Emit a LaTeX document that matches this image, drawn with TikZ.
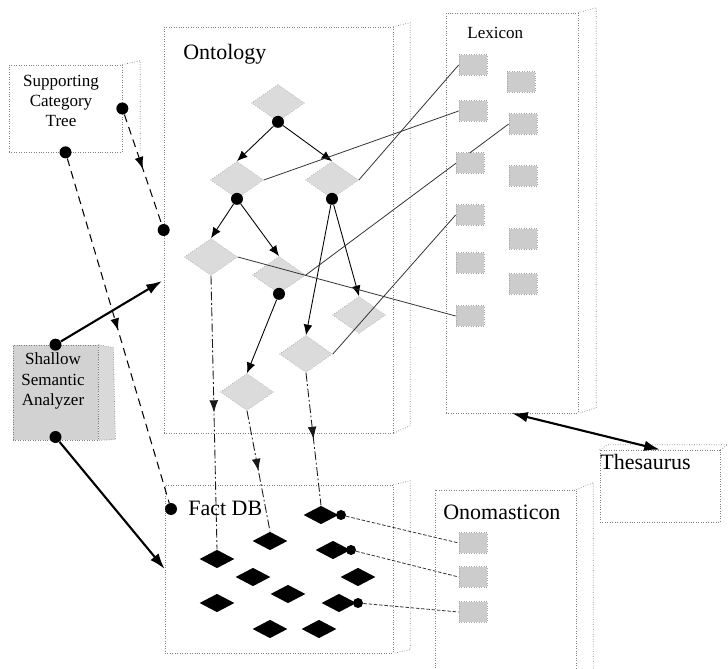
\documentclass[tikz,border=0pt]{standalone}
\usepackage{fontspec}
\setmainfont{Liberation Serif}
\usetikzlibrary{shapes.geometric, arrows.meta, decorations.markings}

\pgfdeclarelayer{front}
\pgfsetlayers{main,front}

\tikzset{
  frontbox/.style={draw=gray, densely dotted, inner sep=0},
  backedge/.style={draw=gray, densely dotted},
  ssabox/.style={draw=gray, densely dotted, fill=gray!35, inner sep=0},
  ssaside/.style={draw=gray, densely dotted, fill=gray!30},
  odiam/.style={diamond, draw=gray!70, densely dotted, fill=gray!28, minimum width=1.06cm, minimum height=0.74cm, inner sep=0},
  fdiam/.style={diamond, fill=black, minimum width=0.7cm, minimum height=0.37cm, inner sep=0},
  lexbox/.style={rectangle, draw=gray!70, densely dotted, fill=gray!40, minimum width=0.56cm, minimum height=0.42cm, inner sep=0},
  bigdot/.style={circle, fill=black, minimum size=0.24cm, inner sep=0},
  smalldot/.style={circle, fill=black, minimum size=0.2cm, inner sep=0},
  bigtxt/.style={font=\fontsize{12.5}{14}\selectfont, inner sep=0},
  smalltxt/.style={font=\fontsize{9.7}{11.6}\selectfont, inner sep=0, align=center},
  isa/.style={black, line width=0.5pt, -{Latex[length=6pt, width=5pt]}},
  lexlink/.style={gray!40!black, line width=0.45pt},
  onolink/.style={gray!40!black, line width=0.45pt, dash pattern=on 2pt off 1pt},
  flow/.style={gray!20!black, line width=0.5pt, dash pattern=on 5pt off 1.5pt on 1pt off 1.5pt},
  sctflow/.style={black, line width=0.6pt, dash pattern=on 4.5pt off 3pt},
  midarrow/.style={postaction={decorate}, decoration={markings,
      mark=at position 0.5 with {\arrow{Latex[length=7pt, width=5pt]}}}},
  thickarrow/.style={line width=1.2pt, -{Latex[length=9pt, width=6pt]}},
}

\begin{document}
\begin{tikzpicture}[x=0.02cm, y=-0.02cm]
\useasboundingbox (0,0) rectangle (728,669);
\clip (0,0) rectangle (728,669);

%% the containers, front faces and back edges
\node[frontbox, minimum width=2.26cm, minimum height=1.74cm] (sct) at (65.5,108.5) {};
\node[frontbox, minimum width=4.58cm, minimum height=8.12cm] (onto) at (278.5,230) {};
\node[frontbox, minimum width=2.64cm, minimum height=8cm] (lex) at (512,213) {};
\node[frontbox, minimum width=2.4cm, minimum height=1.44cm] (thes) at (660,486) {};
\node[frontbox, minimum width=2.82cm, minimum height=3.8cm] (onom) at (505.5,585) {};
\node[frontbox, minimum width=4.56cm, minimum height=3.36cm] (fact) at (279,569) {};

\draw[backedge] (sct.north east) -- ++(18,-4) -- ++(0,91);
\draw[backedge] (onto.north east) -- ++(17,-4) -- ++(0,403) -- (onto.south east);
\draw[backedge] (lex.north east) -- ++(18,-5) -- ++(0,400) -- (lex.south east);
\draw[backedge] (thes.north west) -- ++(8,-5) -- ++(120,0) -- (thes.north east);
\draw[backedge] (onom.north east) -- ++(17,-7) -- ++(0,200);
\draw[backedge] (fact.north east) -- ++(17,-4) -- ++(0,169) -- (fact.south east);

% shallow semantic analyzer, a solid grey block
\node[ssabox, minimum width=1.7cm, minimum height=1.9cm] (ssa) at (55.5,392.5) {};
\filldraw[ssaside] (ssa.north east) -- ++(15,3) -- ++(2,92) -- (ssa.south east) -- cycle;
\draw[backedge] (ssa.north east) -- (ssa.south east);

%% labels
\node[bigtxt, anchor=base west] (ontolbl) at (183,60) {Ontology};
\node[smalltxt, anchor=base west] (lexlbl) at (467,39) {Lexicon};
\node[smalltxt] (sctlbl) at (61,101) {Supporting\\Category\\Tree};
\node[smalltxt] (ssalbl) at (53,381) {Shallow\\Semantic\\Analyzer};
\node[bigtxt, anchor=base west] (theslbl) at (600,469) {Thesaurus};
\node[bigtxt, anchor=base west] (onomlbl) at (443,520) {Onomasticon};
\node[bigtxt, anchor=base west] (factlbl) at (188,516) {Fact DB};

%% ontology concepts
\foreach \n/\x/\y in {o1/278/103, o2/237/180, o3/332/180, o4/211/257,
                      o5/279/275, o6/359/315, o7/306/354, o8/247/392}
  \node[odiam] (\n) at (\x,\y) {};

\foreach \n in {o1, o2, o3, o5}
  \node[bigdot] (\n dot) at (\n.south) {};

% lexicon and onomasticon entries sit on top of the links
\begin{pgfonlayer}{front}
\foreach \n/\x/\y in {l1/473/65, l2/473/111, l3/470/163, l4/470/215, l5/470/263,
                      l6/470/316, r1/521/82, r2/523/124, r3/523/176, r4/523/239, r5/523/284}
  \node[lexbox] (\n) at (\x,\y) {};
\foreach \n/\y in {n1/543, n2/577, n3/612}
  \node[lexbox] (\n) at (473,\y) {};
\end{pgfonlayer}

%% fact instances
\foreach \n/\x/\y in {f1/321/515, f2/270/541, f3/333/550, f4/217/559, f5/253/577, f6/358/577,
                      f7/288/594, f8/217/603, f9/339/603, f10/270/629, f11/319/629}
  \node[fdiam] (\n) at (\x,\y) {};

\node[smalldot] (f1dot) at (341,515) {};
\node[smalldot] (f3dot) at (351,550) {};
\node[smalldot] (f9dot) at (358,603) {};

%% anchor dots
\node[bigdot] (sctdot1) at (sct.east) {};
\node[bigdot] (sctdot2) at (sct.south) {};
\node[bigdot] (ontodot) at (onto.west) {};
\node[bigdot] (factdot) at (171,509) {};
\node[bigdot] (ssadot1) at (ssa.north) {};
\node[bigdot] (ssadot2) at (55.5,437) {};
\coordinate (ontoin) at (162,281);

%% is-a links
\draw[isa] (o1dot) -- (o2.north);
\draw[isa] (o1dot) -- (o3.north);
\draw[isa] (o2dot) -- (o4.north);
\draw[isa] (o2dot) -- (o5.north);
\draw[isa] (o3dot) -- (o6.north);
\draw[isa] (o3dot) -- (o7.north);
\draw[isa] (o5dot) -- (o8.north);

%% concept to lexicon
\draw[lexlink] (o2.east) -- (l2.west);
\draw[lexlink] (o3.east) -- (l1.west);
\draw[lexlink] (o5.east) -- (r2.west);
\draw[lexlink] (o7.east) -- (l4.west);
\draw[lexlink] (o4.east) -- (l6.west);

%% concept to fact
\draw[flow, midarrow] (o4.south) -- (f4.north);
\draw[flow, midarrow] (o8.south) -- (f2.north);
\draw[flow, midarrow] (o7.south) -- (f1.north);

% category tree
\draw[sctflow, midarrow] (sctdot1) -- (ontodot);
\draw[sctflow, midarrow] (sctdot2) -- (factdot);

% analyzer
\draw[thickarrow] (ssadot1) -- (ontoin);
\draw[thickarrow] (ssadot2) -- (fact.west);

% lexicon <-> thesaurus
\draw[line width=1.2pt, {Latex[length=9pt, width=6pt]}-{Latex[length=9pt, width=6pt]}] (lex.south) -- (thes.north);

%% facts to names
\draw[onolink] (f1dot) -- (n1.west);
\draw[onolink] (f3dot) -- (n2.west);
\draw[onolink] (f9dot) -- (n3.west);

\end{tikzpicture}
\end{document}
